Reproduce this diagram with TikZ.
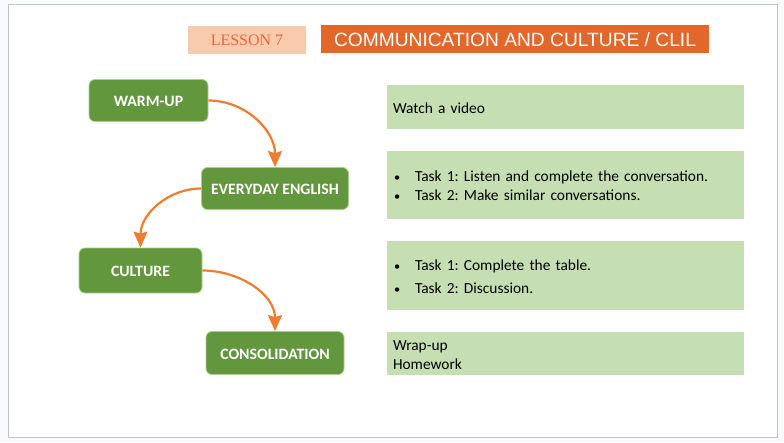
\documentclass[tikz,border=0pt]{standalone}
\usepackage{fontspec}
\setmainfont{Carlito}
\newfontfamily\titlefont{Liberation Sans}
\newfontfamily\lessonfont{Liberation Serif}
\usetikzlibrary{arrows.meta}
\definecolor{stepgreen}{HTML}{62973D}
\definecolor{stepedge}{HTML}{A9D18E}
\definecolor{taskgreen}{HTML}{C5DFB3}
\definecolor{curveorange}{HTML}{ED7D31}
\definecolor{titleorange}{HTML}{E2672A}
\definecolor{lessonpeach}{HTML}{F8CBAD}
\definecolor{lessonred}{HTML}{F0643C}
\definecolor{framegray}{HTML}{C4C4C4}
\definecolor{pagetint}{HTML}{F8FAFD}
\newcommand{\taskitem}[1]{\makebox[22pt][l]{\hspace{1pt}\scalebox{0.8}{\textbullet}}#1}
\begin{document}
\begin{tikzpicture}[
    x=1pt, y=-1pt,
    stepbox/.style={draw=stepedge, line width=0.8pt, fill=stepgreen, rounded corners=6pt, text=white, font=\fontsize{15.8}{18}\selectfont\bfseries, inner sep=0pt, text height=12.5pt, text depth=0pt},
    taskbox/.style={fill=taskgreen, minimum width=357pt, inner sep=0pt, text width=345pt, align=left, font=\frenchspacing\fontsize{15.4}{19}\selectfont},
    curve/.style={curveorange, line width=2.2pt, -{Stealth[length=16pt,width=14pt,inset=2pt]}}
]
\useasboundingbox (0,0) rectangle (784,442);
\fill[pagetint] (0,0) rectangle (784,442);
\node[draw=framegray, fill=white, line width=1pt, minimum width=769pt, minimum height=433pt, inner sep=0pt] (frame) at (392.5,220.5) {};

\node[fill=lessonpeach, minimum width=118pt, minimum height=28pt, inner sep=0pt, text=lessonred, font=\lessonfont\fontsize{16}{18}\selectfont] (lesson) at (247,40) {LESSON 7};
\node[fill=titleorange, minimum width=388pt, minimum height=28pt, inner sep=0pt, text=white, text height=14pt, text depth=0pt, font=\titlefont\fontsize{19.2}{24}\selectfont] (title) at (515,39) {COMMUNICATION AND CULTURE / CLIL};

\node[stepbox, minimum width=119pt, minimum height=42pt] (warmup) at (148.5,100.5) {WARM-UP};
\node[stepbox, minimum width=147pt, minimum height=42pt] (everyday) at (275,188.5) {EVERYDAY ENGLISH};
\node[stepbox, minimum width=123pt, minimum height=45pt] (culture) at (140.5,270.5) {CULTURE};
\node[stepbox, minimum width=138pt, minimum height=43pt] (consolidation) at (275,353) {CONSOLIDATION};

\node[taskbox, minimum height=44pt] (video) at (565.5,106.5) {\rule{0pt}{14pt}Watch a video};
\node[taskbox, minimum height=68pt] (tasksa) at (565.5,185) {\rule{0pt}{13pt}\taskitem{Task 1: Listen and complete the conversation.}\\\taskitem{Task 2: Make similar conversations.}};
\node[taskbox, minimum height=69pt, font=\frenchspacing\fontsize{15.4}{23}\selectfont] (tasksb) at (565.5,275) {\rule{0pt}{14pt}\taskitem{Task 1: Complete the table.}\\\taskitem{Task 2: Discussion.}};
\node[taskbox, minimum height=43pt] (wrapup) at (565.5,353.5) {\rule{0pt}{14pt}Wrap-up\\Homework};

\draw[curve] (warmup.east) to[out=0, in=90] (everyday.north);
\draw[curve] (everyday.west) to[out=180, in=90] (culture.north);
\draw[curve] (culture.east) to[out=0, in=90] (consolidation.north);
\end{tikzpicture}
\end{document}
